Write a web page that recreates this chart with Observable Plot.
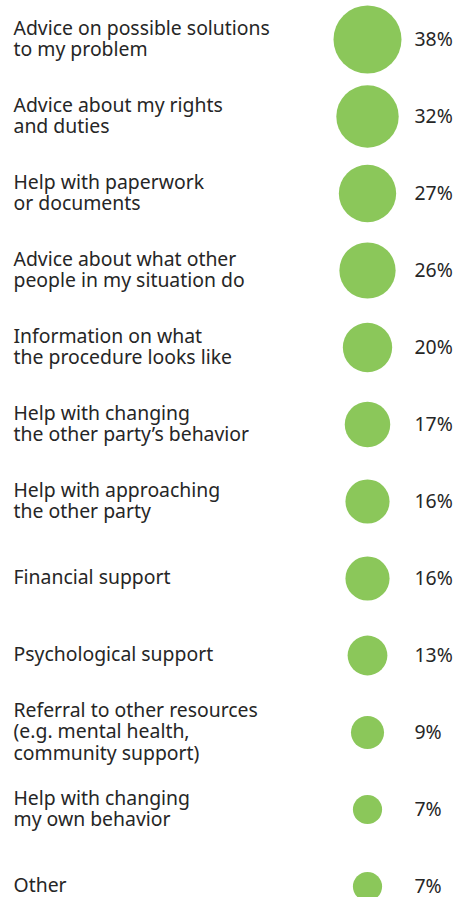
<!DOCTYPE html>
<html>
<head>
<meta charset="utf-8">
<script src="https://cdn.jsdelivr.net/npm/d3@7"></script>
<script src="https://cdn.jsdelivr.net/npm/@observablehq/plot@0.6"></script>
<style>
  html, body { margin: 0; padding: 0; background: #fff; }
  #chart svg { display: block; }
</style>
</head>
<body>
<div id="chart"></div>
<script>
const categories = [
  "Advice on possible solutions\nto my problem",
  "Advice about my rights\nand duties",
  "Help with paperwork\nor documents",
  "Advice about what other\npeople in my situation do",
  "Information on what\nthe procedure looks like",
  "Help with changing\nthe other party’s behavior",
  "Help with approaching\nthe other party",
  "Financial support",
  "Psychological support",
  "Referral to other resources\n(e.g. mental health,\ncommunity support)",
  "Help with changing\nmy own behavior",
  "Other"
];
const values = [38, 32, 27, 26, 20, 17, 16, 16, 13, 9, 7, 7];

const data = categories.map((c, i) => ({category: c, value: values[i]}));

const FS = 19.4;
const chart = Plot.plot({
  width: 456,
  height: 897,
  margin: 0,
  style: {fontFamily: "'Noto Sans', 'Open Sans', sans-serif", fontSize: FS + "px", color: "#262626", background: "#fff"},
  y: {type: "point", domain: categories, range: [38.5, 886.5], padding: 0, axis: null},
  r: {type: "sqrt", domain: [0, 38], range: [0, 34]},
  marks: [
    Plot.dot(data, {frameAnchor: "left", dx: 367, y: "category", r: "value", fill: "#8bc75a", stroke: "none"}),
    Plot.text(data, {frameAnchor: "left", dx: 13, dy: -1, y: "category", text: "category", textAnchor: "start", lineAnchor: "middle", lineHeight: 21.6 / FS, fill: "#262626", fontSize: FS}),
    Plot.text(data, {frameAnchor: "left", dx: 414, dy: 0, y: "category", text: d => d.value + "%", textAnchor: "start", lineAnchor: "middle", fill: "#262626", fontSize: FS})
  ]
});
document.getElementById("chart").appendChild(chart);
</script>
</body>
</html>
